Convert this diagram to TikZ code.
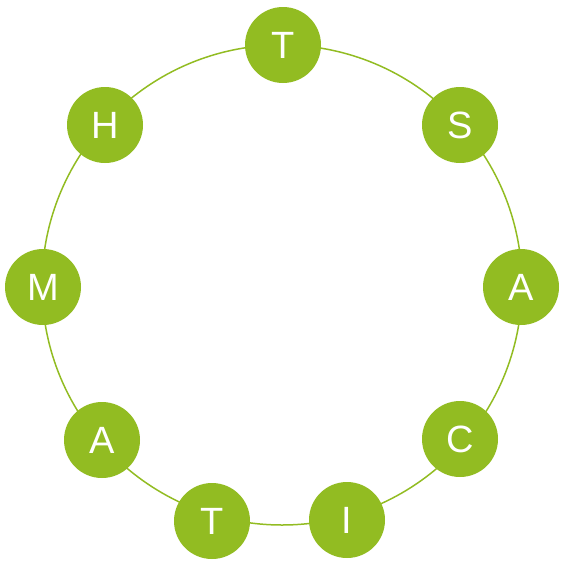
\documentclass[tikz,border=0pt]{standalone}
\usepackage{fontspec}
\setmainfont{Liberation Sans}
\definecolor{leaf}{RGB}{146,188,34}
\begin{document}
\begin{tikzpicture}[x=1pt,y=-1pt,
  letter/.style={circle,fill=leaf,draw=none,minimum size=76pt,inner sep=0pt,
    text=white,font=\fontsize{38}{38}\selectfont},
  ring/.style={draw=leaf,line width=1.5pt}]
\useasboundingbox (0,0) rectangle (560,562);
\coordinate (ctr) at (282,285);
\draw[ring] (ctr) circle (240);
\node[letter] (t1) at (283,45) {T};
\node[letter] (s) at (460,125) {S};
\node[letter] (a1) at (521,287) {A};
\node[letter] (c) at (460,439) {C};
\node[letter] (i) at (347,520) {I};
\node[letter] (t2) at (212,521) {T};
\node[letter] (a2) at (102,440) {A};
\node[letter] (m) at (43,287) {M};
\node[letter] (h) at (105,125) {H};
\end{tikzpicture}
\end{document}
